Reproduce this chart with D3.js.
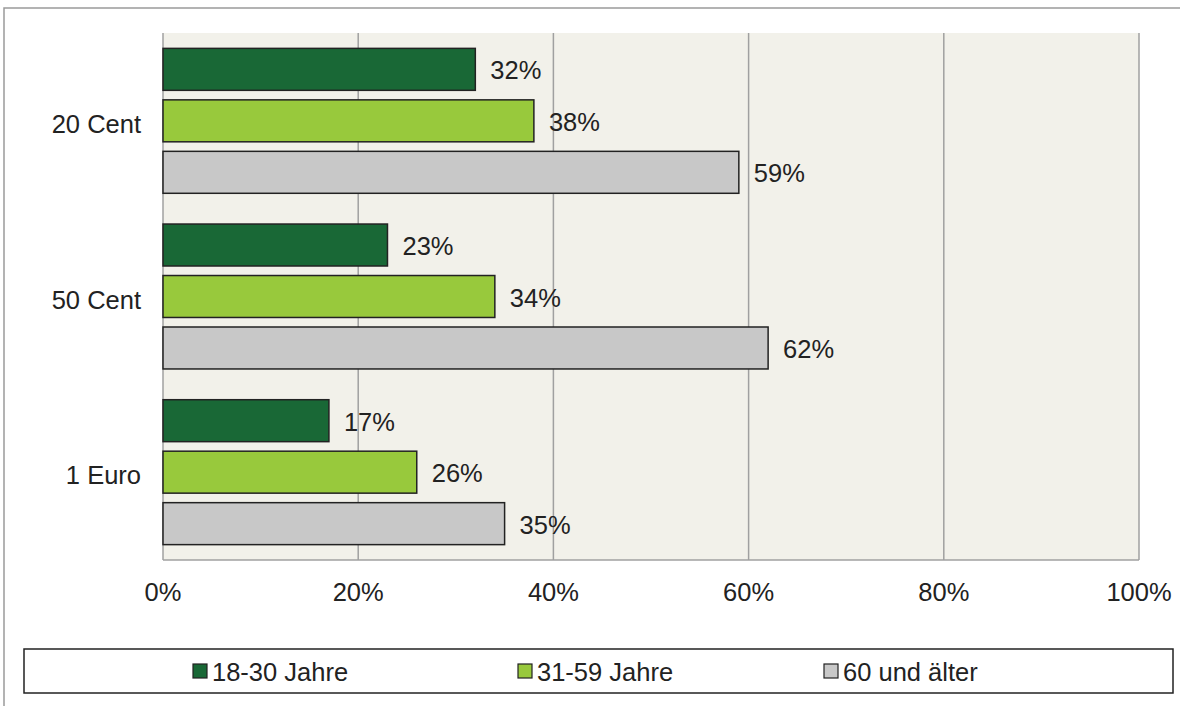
<!DOCTYPE html>
<html><head><meta charset="utf-8">
<script src="https://cdn.jsdelivr.net/npm/d3@7"></script>
<style>html,body{margin:0;padding:0;background:#fff;}svg{display:block;font-family:"Liberation Sans",Arial,sans-serif;}</style>
</head><body>
<svg id="c" width="1180" height="706"></svg>
<script>
const categories = ["20 Cent", "50 Cent", "1 Euro"];
const seriesNames = ["18-30 Jahre", "31-59 Jahre", "60 und älter"];
const s1830 = [32, 23, 17];
const s3159 = [38, 34, 26];
const s60 = [59, 62, 35];
const xTicks = [0, 20, 40, 60, 80, 100];
const colors = ["#196836", "#98C93C", "#C8C8C8"];

const series = [s1830, s3159, s60];
const svg = d3.select("#c");
const L = 163, R = 1139, T = 33, B = 560;
const FS = 25.5;

svg.append("rect").attr("x",4).attr("y",8).attr("width",1200).attr("height",720)
  .attr("fill","#fff").attr("stroke","#9a9a9a").attr("stroke-width",1.5);

const x = d3.scaleLinear().domain([0,100]).range([L,R]);
const y = d3.scaleBand().domain(categories).range([T,B]).paddingInner(0.175).paddingOuter(0.0875);
const yi = d3.scaleBand().domain(d3.range(3)).range([0,y.bandwidth()]).paddingInner(0.185).paddingOuter(0);

svg.append("rect").attr("x",L).attr("y",T).attr("width",R-L).attr("height",B-T).attr("fill","#F2F1EA");

svg.append("g").selectAll("line").data(xTicks).join("line")
  .attr("x1",d=>x(d)).attr("x2",d=>x(d)).attr("y1",T).attr("y2",B)
  .attr("stroke","#a0a0a0").attr("stroke-width",1.5);
svg.append("line").attr("x1",L).attr("x2",R).attr("y1",B).attr("y2",B).attr("stroke","#a0a0a0").attr("stroke-width",1.5);

const rows = [];
categories.forEach((c,ci)=>series.forEach((s,si)=>rows.push({c,si,v:s[ci]})));

svg.append("g").selectAll("rect").data(rows).join("rect")
  .attr("x",x(0)).attr("y",d=>y(d.c)+yi(d.si))
  .attr("width",d=>x(d.v)-x(0)).attr("height",yi.bandwidth())
  .attr("fill",d=>colors[d.si]).attr("stroke","#222").attr("stroke-width",1.5);

svg.append("g").selectAll("text").data(rows).join("text")
  .attr("x",d=>x(d.v)+15).attr("y",d=>y(d.c)+yi(d.si)+yi.bandwidth()/2+1)
  .attr("dominant-baseline","central").attr("font-size",FS).attr("fill","#222")
  .text(d=>d.v+"%");

svg.append("g").selectAll("text").data(categories).join("text")
  .attr("x",141).attr("y",d=>y(d)+y.bandwidth()/2+3)
  .attr("text-anchor","end").attr("dominant-baseline","central").attr("font-size",FS).attr("fill","#222")
  .text(d=>d);

svg.append("g").selectAll("text").data(xTicks).join("text")
  .attr("x",d=>x(d)).attr("y",592).attr("text-anchor","middle").attr("dominant-baseline","central")
  .attr("font-size",FS).attr("fill","#222").text(d=>d+"%");

svg.append("rect").attr("x",24).attr("y",649).attr("width",1149).attr("height",44)
  .attr("fill","#fff").attr("stroke","#222").attr("stroke-width",1.5);
const legX = [193, 518, 824];
const lg = svg.append("g").selectAll("g").data(seriesNames).join("g")
  .attr("transform",(d,i)=>`translate(${legX[i]},671)`);
lg.append("rect").attr("x",0).attr("y",-7).attr("width",14).attr("height",14)
  .attr("fill",(d,i)=>colors[i]).attr("stroke","#222").attr("stroke-width",1.2);
lg.append("text").attr("x",19).attr("y",1).attr("dominant-baseline","central")
  .attr("font-size",FS).attr("fill","#222").text(d=>d);
</script>
</body></html>
